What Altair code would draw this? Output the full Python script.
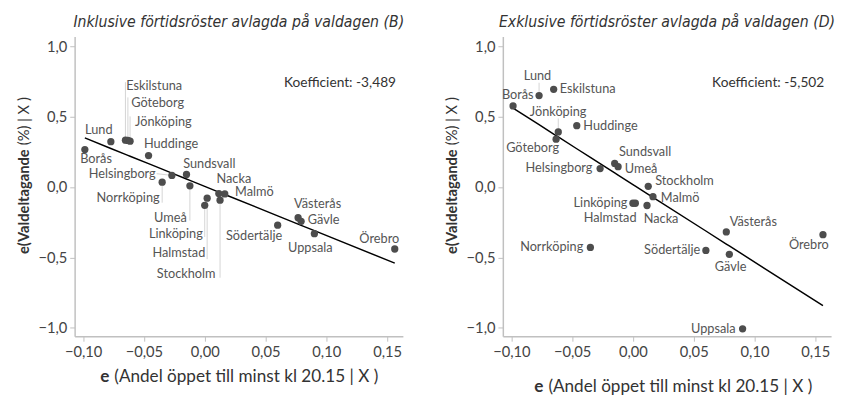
import altair as alt
import pandas as pd

cities = ["Borås", "Lund", "Eskilstuna", "Göteborg", "Jönköping", "Huddinge",
          "Helsingborg", "Norrköping", "Sundsvall", "Umeå", "Linköping", "Halmstad",
          "Nacka", "Stockholm", "Malmö", "Södertälje", "Västerås", "Gävle",
          "Uppsala", "Örebro"]
x_resid = [-0.0986, -0.0772, -0.0652, -0.0632, -0.0614, -0.0462,
           -0.0270, -0.0350, -0.0150, -0.0122, 0.0000, 0.0020,
           0.0116, 0.0126, 0.0165, 0.0600, 0.0768, 0.0793,
           0.0902, 0.1563]
y_incl = [0.266, 0.322, 0.333, 0.331, 0.326, 0.224,
          0.083, 0.035, 0.090, 0.009, -0.130, -0.079,
          -0.046, -0.093, -0.049, -0.271, -0.218, -0.243,
          -0.331, -0.440]
y_excl = [0.576, 0.650, 0.694, 0.340, 0.392, 0.436,
          0.131, -0.429, 0.168, 0.145, -0.115, -0.115,
          -0.131, 0.005, -0.068, -0.450, -0.319, -0.478,
          -1.007, -0.338]
coefs = [-3.489, -5.502]
intercepts = [0.005, 0.018]
panel_titles = ["Inklusive förtidsröster avlagda på valdagen (B)",
                "Exklusive förtidsröster avlagda på valdagen (D)"]
x_ticks = [-0.10, -0.05, 0.00, 0.05, 0.10, 0.15]
y_ticks = [-1.0, -0.5, 0.0, 0.5, 1.0]

# label placement (annotation layout), panel B
labx_B = [-0.1024, -0.0984, -0.0645, -0.0605, -0.0573, -0.0500,
          -0.0403, -0.0371, -0.0177, -0.0148, -0.0016, 0.0005,
          0.0097, 0.0089, 0.0250, 0.0175, 0.0734, 0.0847,
          0.0685, 0.1272]
laby_B = [0.200, 0.403, 0.717, 0.599, 0.465, 0.306,
          0.090, -0.076, 0.160, -0.220, -0.331, -0.472,
          0.055, -0.618, -0.036, -0.349, -0.123, -0.234,
          -0.431, -0.366]
align_B = ["left", "left", "left", "left", "left", "left",
           "right", "right", "left", "right", "right", "right",
           "left", "right", "left", "left", "left", "left",
           "left", "left"]
leadx_B = [None, None, -0.0652, -0.0632, -0.0614, None,
           -0.0395, -0.0350, None, -0.0122, 0.0000, 0.0020,
           None, 0.0126, None, None, None, None, None, None]
leady_B = [None, None, 0.745, 0.637, 0.502, None,
           0.095, -0.111, None, -0.238, -0.354, -0.512,
           None, -0.644, None, None, None, None, None, None]

# label placement, panel D
labx_D = [-0.0817, -0.0785, -0.0602, -0.0607, -0.0615, -0.0408,
          -0.0333, -0.0408, -0.0115, -0.0067, -0.0045, 0.0030,
          0.0089, 0.0183, 0.0229, 0.0554, 0.0796, 0.0804,
          0.0844, 0.1447]
laby_D = [0.650, 0.790, 0.694, 0.280, 0.531, 0.436,
          0.135, -0.429, 0.245, 0.128, -0.114, -0.217,
          -0.229, 0.040, -0.075, -0.450, -0.252, -0.566,
          -1.007, -0.410]
align_D = ["right", "center", "left", "right", "center", "left",
           "right", "right", "left", "left", "right", "right",
           "left", "left", "left", "right", "left", "center",
           "right", "center"]
leadx_D = [None, -0.0772, None, None, -0.0614, None,
           None, None, None, None, None, None,
           None, None, None, None, None, None, None, None]
leady_D = [None, 0.741, None, None, 0.487, None,
           None, None, None, None, None, None,
           None, None, None, None, None, None, None, None]

FONT = "Lato"
TITLE_FONT = "Liberation Sans Narrow, DejaVu Sans Condensed, Roboto, sans-serif"
W, H = 335, 306


def panel(ys, coef, b, title, labx, laby, align, leadx, leady, xt_dy, xt_dx):
    df = pd.DataFrame({"city": cities, "x": x_resid, "y": ys,
                       "labx": labx, "laby": laby, "align": align,
                       "lx": leadx, "ly": leady})
    xs = alt.Scale(domain=[-0.107, 0.163], nice=False, zero=False)
    ysc = alt.Scale(domain=[-1.06, 1.07], nice=False, zero=False)
    xaxis = alt.Axis(values=x_ticks, title=None, grid=False,
                     labelExpr="replace(format(datum.value, '.2f'), '.', ',')")
    yaxis = alt.Axis(values=y_ticks, title=None, grid=False,
                     labelExpr="replace(format(datum.value, '.1f'), '.', ',')")
    base = alt.Chart(df)
    leads = base.transform_filter("isValid(datum.lx)").mark_rule(
        color="#d4d4d4", strokeWidth=1).encode(
        x=alt.X("x:Q", scale=xs, axis=xaxis),
        y=alt.Y("y:Q", scale=ysc, axis=yaxis),
        x2="lx:Q", y2="ly:Q")
    line = base.transform_calculate(yhat=f"{b} + ({coef}) * datum.x").mark_line(
        color="black", strokeWidth=1.5).encode(
        x=alt.X("x:Q", scale=xs, axis=xaxis),
        y=alt.Y("yhat:Q", scale=ysc, axis=yaxis))
    pts = base.mark_circle(size=55, color="#4d4d4d", opacity=1).encode(
        x=alt.X("x:Q", scale=xs, axis=xaxis),
        y=alt.Y("y:Q", scale=ysc, axis=yaxis))
    labs = []
    for a in ["left", "right", "center"]:
        labs.append(base.transform_filter(f"datum.align == '{a}'").mark_text(
            align=a, baseline="middle", font=FONT, fontSize=13, color="#555555").encode(
            x=alt.X("labx:Q", scale=xs), y=alt.Y("laby:Q", scale=ysc), text="city:N"))
    coef_txt = alt.Chart(pd.DataFrame({"t": ["Koefficient: " + f"{coef:.3f}".replace(".", ",")]})
                         ).mark_text(align="right", baseline="middle", font=FONT,
                                     fontSize=14, color="#333333").encode(
        x=alt.value(W - 7), y=alt.value(48), text="t:N")
    ann = pd.DataFrame({"t": [""]})
    ytitle_b = alt.Chart(ann).mark_text(align="left", baseline="middle", angle=270,
                                        font=FONT, fontSize=15, fontWeight="bold",
                                        color="#333333").encode(
        x=alt.value(-52), y=alt.value(222), text=alt.value("e(Valdeltagande"))
    ytitle_n = alt.Chart(ann).mark_text(align="left", baseline="middle", angle=270,
                                        font=FONT, fontSize=15, color="#333333").encode(
        x=alt.value(-52), y=alt.value(111), text=alt.value("(%) | X )"))
    xtitle_b = alt.Chart(ann).mark_text(align="right", baseline="middle",
                                        font=FONT, fontSize=17.5, fontWeight="bold",
                                        color="#333333").encode(
        x=alt.value(W / 2 - 132 + xt_dx), y=alt.value(H + xt_dy), text=alt.value("e"))
    xtitle_n = alt.Chart(ann).mark_text(align="left", baseline="middle",
                                        font=FONT, fontSize=17.5, color="#333333").encode(
        x=alt.value(W / 2 - 127 + xt_dx), y=alt.value(H + xt_dy),
        text=alt.value("(Andel öppet till minst kl 20.15 | X )"))
    return alt.layer(leads, line, pts, *labs, coef_txt, ytitle_b, ytitle_n,
                     xtitle_b, xtitle_n).properties(
        width=W, height=H,
        title=alt.TitleParams(title, font=TITLE_FONT, fontSize=16,
                              fontStyle="italic", fontWeight="normal",
                              color="#333333", frame="group", anchor="middle",
                              offset=7))


left = panel(y_incl, coefs[0], intercepts[0], panel_titles[0],
             labx_B, laby_B, align_B, leadx_B, leady_B, 42, 0)
right = panel(y_excl, coefs[1], intercepts[1], panel_titles[1],
              labx_D, laby_D, align_D, leadx_D, leady_D, 52, 6)

chart = alt.hconcat(left, right, spacing=41).properties(
    padding={"left": 9, "top": 2, "right": 0, "bottom": 0}
).configure_view(stroke=None).configure_axis(
    domainColor="#c0c0c0", domainWidth=1.5, tickColor="#c0c0c0", tickSize=5,
    labelColor="#444444", labelFont=FONT, labelFontSize=15, labelPadding=3
).configure_axisX(labelPadding=4)

chart.save("out.html", embed_options={"renderer": "svg", "actions": False})
